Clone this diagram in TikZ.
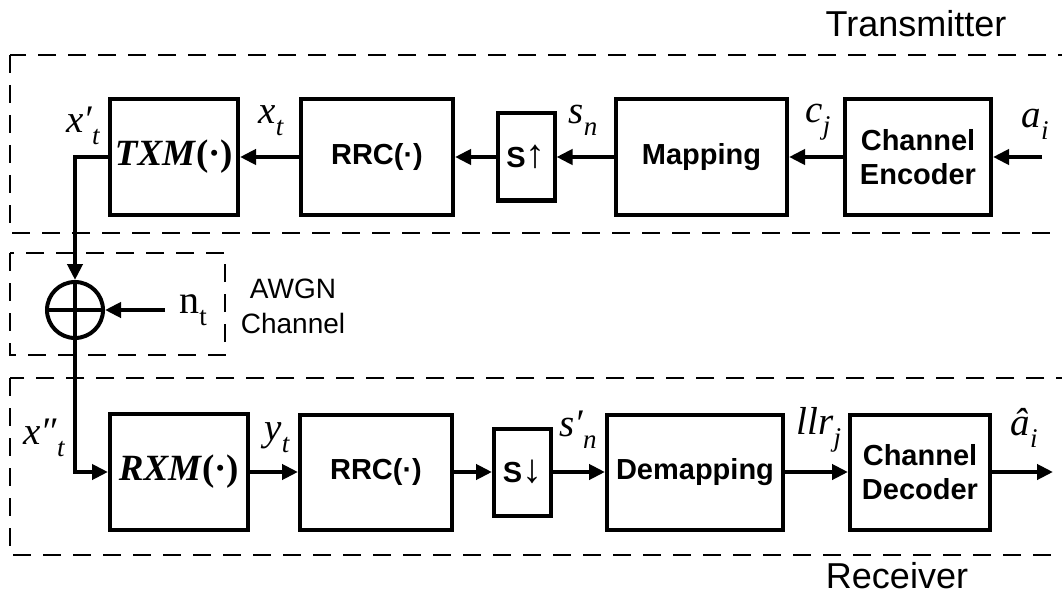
\documentclass[tikz,border=0pt]{standalone}
\usepackage{fontspec}
\setmainfont{Liberation Serif}
\setsansfont{Liberation Sans}
\usetikzlibrary{arrows.meta}
\newcommand{\lowsub}[1]{\raisebox{-0.3em}{\fontsize{27}{27}\selectfont #1}}
\newcommand{\bigarr}[1]{{\mdseries\fontsize{40}{34}\selectfont #1}}
\tikzset{
  blk/.style={draw, line width=4pt, align=center, inner sep=0pt,
              minimum height=115pt, font=\fontsize{29}{34}\selectfont\sffamily\bfseries},
  fnblk/.style={blk, font=\fontsize{37}{40}\selectfont\rmfamily\bfseries},
  rateblk/.style={blk, minimum width=57pt, minimum height=87pt},
  sig/.style={inner sep=0pt, font=\fontsize{39}{40}\selectfont\rmfamily\itshape},
  wire/.style={line width=4pt, -{Triangle[length=16pt,width=15pt]}},
  zone/.style={line width=2.5pt, dash pattern=on 18pt off 12pt},
  zonelab/.style={inner sep=0pt, align=center, font=\fontsize{36}{38}\selectfont\sffamily},
}

\begin{document}
\begin{tikzpicture}[x=1pt,y=-1pt]
  \useasboundingbox (0,0) rectangle (1062,596);
  % transmitter, channel and receiver areas
  \draw[zone] (10,55) rectangle (1085,233);
  \draw[zone] (10,378) rectangle (1085,555);
  \draw[zone] (10,253) rectangle (225,355);
  \node[zonelab, anchor=base] (ltx) at (916,37) {Transmitter};
  \node[zonelab, anchor=base] (lrx) at (897,588) {Receiver};
  \node[zonelab, font=\fontsize{28}{35}\selectfont\sffamily] (lch) at (293,306) {AWGN\\Channel};

  % transmitter chain
  \node[fnblk, minimum width=128pt] (txm) at (174,157) {\textit{TXM}(·)};
  \node[blk, minimum width=152pt] (rrct) at (377,157) {RRC(·)};
  \node[rateblk] (sup) at (526,157) {S\bigarr{↑}};
  \node[blk, minimum width=171pt] (map) at (701.5,157) {Mapping};
  \node[blk, minimum width=146pt] (enc) at (918,157) {Channel\\Encoder};

  % receiver chain
  \node[fnblk, minimum width=138pt, minimum height=116pt] (rxm) at (179,472) {\textit{RXM}(·)};
  \node[blk, minimum width=152pt] (rrcr) at (376,472) {RRC(·)};
  \node[rateblk] (sdn) at (522.5,472) {S\bigarr{↓}};
  \node[blk, minimum width=176pt] (dem) at (695,472) {Demapping};
  \node[blk, minimum width=140pt] (dec) at (920,472) {Channel\\Decoder};

  % adder
  \node[draw, circle, line width=4pt, minimum size=56pt, inner sep=0pt] (sum) at (75,310) {};
  \draw[line width=4pt] (sum.north) -- (sum.south) (sum.west) -- (sum.east);

  % connectors
  \coordinate (ain) at (1042,157);
  \coordinate (nt) at (165,310);
  \coordinate (aout) at (1053,472);
  \draw[wire] (ain) -- (enc.east);
  \foreach \a/\b in {enc/map, map/sup, sup/rrct, rrct/txm}
    \draw[wire] (\a.west) -- (\b.east);
  \draw[wire] (txm.west) -| (sum.north);
  \draw[wire] (nt) -- (sum.east);
  \draw[wire] (sum.south) |- (rxm.west);
  \foreach \a/\b in {rxm/rrcr, rrcr/sdn, sdn/dem, dem/dec}
    \draw[wire] (\a.east) -- (\b.west);
  \draw[wire] (dec.east) -- (aout);

  % signal labels
  \node[sig] (lxp) at (83,126) {x′\lowsub{t}};
  \node[sig] (lx) at (271,121) {x\lowsub{t}};
  \node[sig] (ls) at (583,120) {s\lowsub{n}};
  \node[sig] (lc) at (818,122) {c\lowsub{j}};
  \node[sig] (la) at (1035,124) {a\lowsub{i}};
  \node[sig] (lxpp) at (44,438) {x″\lowsub{t}};
  \node[sig] (ly) at (277,438) {y\lowsub{t}};
  \node[sig] (lsp) at (578,430) {s′\lowsub{n}};
  \node[sig] (lllr) at (819,430) {llr\lowsub{j}};
  \node[sig] (lah) at (1024,428) {â\lowsub{i}};
  \node[sig, font=\fontsize{40}{40}\selectfont\rmfamily] (lnt) at (193,310) {n\lowsub{t}};
\end{tikzpicture}
\end{document}
